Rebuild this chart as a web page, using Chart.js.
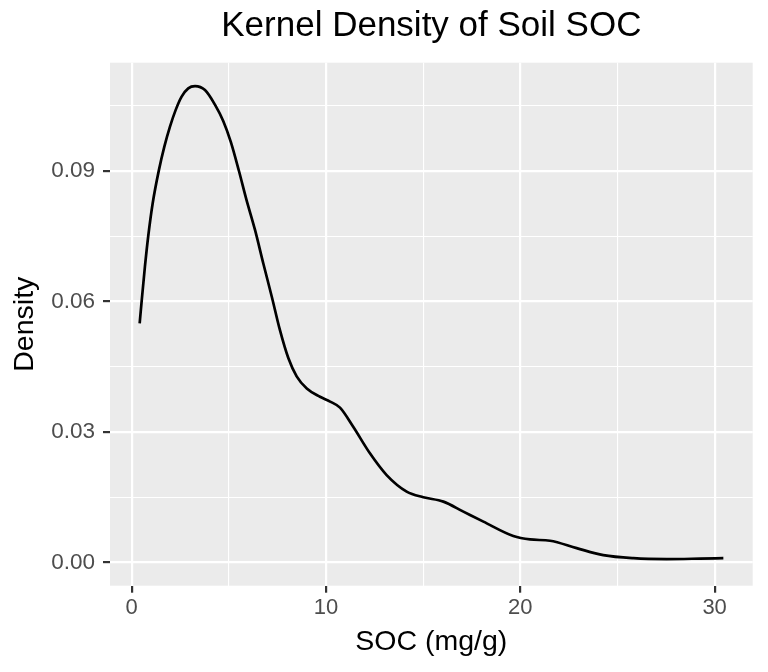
<!DOCTYPE html>
<html>
<head>
<meta charset="utf-8">
<script src="https://cdn.jsdelivr.net/npm/chart.js@4/dist/chart.umd.min.js"></script>
<style>
  html, body { margin: 0; padding: 0; background: #ffffff; }
  #wrap { width: 768px; height: 672px; position: relative; }
</style>
</head>
<body>
<div id="wrap"><canvas id="c" width="768" height="672"></canvas></div>
<script>
// ---- data ----
const socX = [0.41, 0.51, 0.68, 0.85, 1.08, 1.40, 1.68, 1.97, 2.26, 2.57, 2.91, 3.26, 3.77, 4.29, 4.71, 5.10, 5.52, 5.90, 6.35, 6.77, 7.21, 7.63, 8.06, 8.49, 9.01, 9.69, 10.21, 10.72, 11.40, 12.26, 13.12, 14.15, 15.01, 16.04, 17.07, 18.10, 19.64, 20.50, 21.53, 22.90, 24.27, 25.82, 27.53, 29.25, 30.45];
const densityY = [0.0550, 0.0600, 0.0680, 0.0750, 0.0826, 0.0902, 0.0956, 0.1002, 0.1040, 0.1071, 0.1090, 0.1095, 0.1086, 0.1052, 0.1015, 0.0967, 0.0900, 0.0835, 0.0764, 0.0688, 0.0611, 0.0534, 0.0470, 0.0428, 0.0400, 0.0381, 0.0370, 0.0356, 0.0312, 0.0251, 0.0201, 0.0163, 0.0150, 0.0140, 0.0117, 0.0094, 0.0061, 0.0053, 0.0050, 0.0033, 0.0017, 0.0010, 0.0008, 0.0009, 0.0010];

const xTickValues = [0, 5, 10, 15, 20, 25, 30];
const xTickLabels = ['0', '', '10', '', '20', '', '30'];
const yTickValues = [0, 0.015, 0.03, 0.045, 0.06, 0.075, 0.09, 0.105];
const yTickLabels = ['0.00', '', '0.03', '', '0.06', '', '0.09', ''];

const chartTitle = 'Kernel Density of Soil SOC';
const xTitle = 'SOC (mg/g)';
const yTitle = 'Density';

const xMin = -1.117, xMax = 31.96;
const yMin = -0.00533, yMax = 0.1149;

const FONT = "'Liberation Sans', Arial, Helvetica, sans-serif";

const panelBg = {
  id: 'panelBg',
  beforeDraw(chart) {
    const {ctx, chartArea: a} = chart;
    ctx.save();
    ctx.fillStyle = '#EBEBEB';
    ctx.fillRect(a.left, a.top, a.right - a.left, a.bottom - a.top);
    ctx.restore();
  }
};

const major = (c) => c.index % 2 === 0;

new Chart(document.getElementById('c'), {
  type: 'line',
  data: {
    datasets: [{
      data: socX.map((x, i) => ({x: x, y: densityY[i]})),
      borderColor: '#000000',
      borderWidth: 2.7,
      pointRadius: 0,
      fill: false,
      cubicInterpolationMode: 'monotone'
    }]
  },
  options: {
    responsive: false,
    animation: false,
    layout: { padding: { top: 0, left: 0, right: 15.3, bottom: 0 } },
    plugins: {
      legend: { display: false },
      tooltip: { enabled: false },
      title: {
        display: true,
        text: chartTitle,
        fullSize: false,
        color: '#000000',
        font: { family: FONT, size: 35, weight: 'normal' },
        padding: { top: 5.2, bottom: 15.5 }
      }
    },
    scales: {
      x: {
        type: 'linear',
        min: xMin, max: xMax,
        afterBuildTicks: (s) => { s.ticks = xTickValues.map(v => ({value: v})); },
        afterFit: (s) => { s.height = 86.3; },
        border: { display: false },
        grid: {
          color: '#FFFFFF',
          lineWidth: (c) => major(c) ? 2.2 : 1.1,
          drawTicks: true,
          tickLength: 7,
          tickWidth: 2.2,
          tickColor: (c) => major(c) ? '#333333' : 'rgba(0,0,0,0)'
        },
        ticks: {
          autoSkip: false,
          maxRotation: 0,
          minRotation: 0,
          padding: 2,
          color: '#4D4D4D',
          font: { family: FONT, size: 22 },
          callback: (v, i) => xTickLabels[i]
        },
        title: {
          display: true,
          text: xTitle,
          color: '#000000',
          font: { family: FONT, size: 28.5 },
          padding: { top: 0, bottom: 13.1 }
        }
      },
      y: {
        type: 'linear',
        min: yMin, max: yMax,
        afterBuildTicks: (s) => { s.ticks = yTickValues.map(v => ({value: v})); },
        afterFit: (s) => { s.width = 110; },
        border: { display: false },
        grid: {
          color: '#FFFFFF',
          lineWidth: (c) => major(c) ? 2.2 : 1.1,
          drawTicks: true,
          tickLength: 7,
          tickWidth: 2.2,
          tickColor: (c) => major(c) ? '#333333' : 'rgba(0,0,0,0)'
        },
        ticks: {
          autoSkip: false,
          padding: 8,
          color: '#4D4D4D',
          font: { family: FONT, size: 22.5 },
          callback: (v, i) => yTickLabels[i]
        },
        title: {
          display: true,
          text: yTitle,
          color: '#000000',
          font: { family: FONT, size: 28.5 },
          padding: { top: 8, bottom: 0 }
        }
      }
    }
  },
  plugins: [panelBg]
});
</script>
</body>
</html>
